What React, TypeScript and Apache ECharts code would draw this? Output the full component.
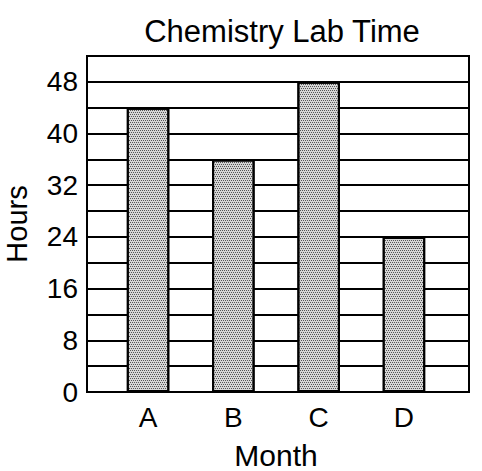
import React, { useEffect, useRef } from "react";
import * as echarts from "echarts";

const categories = ["A", "B", "C", "D"];
const hours = [44, 36, 48, 24];
const yTickLabels = [0, 8, 16, 24, 32, 40, 48];
const titleText = "Chemistry Lab Time";
const xName = "Month";
const yName = "Hours";

const FONT = "'Liberation Sans', Arial, sans-serif";

export default function App() {
  const ref = useRef<HTMLDivElement>(null);
  useEffect(() => {
    if (!ref.current) return;
    const chart = echarts.init(ref.current, null, { renderer: "svg" });
    const top = 56;
    const bottom = 79;
    chart.setOption({
      animation: false,
      backgroundColor: "#ffffff",
      title: {
        text: titleText,
        left: 277,
        textAlign: "center",
        top: 11,
        textStyle: { fontFamily: FONT, fontSize: 31, fontWeight: "normal", color: "#000" },
      },
      grid: [
        {
          left: 87, right: 13, top, bottom, show: true, borderColor: "#000", borderWidth: 2,
          backgroundColor: "transparent", containLabel: false, outerBoundsMode: "none",
        },
        { left: 105.4, width: 341.2, top, bottom, containLabel: false, outerBoundsMode: "none" },
      ],
      xAxis: [
        { type: "value", gridIndex: 0, min: 0, max: 1, show: false },
        {
          type: "category",
          gridIndex: 1,
          data: categories,
          boundaryGap: true,
          axisLine: { show: false },
          axisTick: { show: false },
          axisLabel: { margin: 11, fontFamily: FONT, fontSize: 28, color: "#000" },
          name: xName,
          nameLocation: "middle",
          nameGap: 48,
          nameTextStyle: { fontFamily: FONT, fontSize: 30, color: "#000" },
        },
      ],
      yAxis: [
        {
          type: "value",
          gridIndex: 0,
          min: 0,
          max: 52,
          interval: 4,
          axisLine: { show: true, lineStyle: { color: "#000", width: 2 } },
          axisTick: { show: false },
          splitLine: { show: true, lineStyle: { color: "#000", width: 2 } },
          axisLabel: {
            margin: 9,
            fontFamily: FONT,
            fontSize: 28,
            color: "#000",
            formatter: (v: number) => (yTickLabels.includes(v) ? String(v) : ""),
          },
          name: yName,
          nameLocation: "middle",
          nameGap: 56,
          nameTextStyle: { fontFamily: FONT, fontSize: 29, color: "#000" },
        },
        { type: "value", gridIndex: 1, min: 0, max: 52, interval: 4, show: false },
      ],
      series: [
        {
          type: "bar",
          xAxisIndex: 1,
          yAxisIndex: 1,
          data: hours,
          barWidth: 42.5,
          z: 5,
          itemStyle: {
            color: "#d6d6d6",
            borderColor: "#000",
            borderWidth: 2,
            decal: {
              symbol: "rect",
              symbolSize: 1,
              color: "#555555",
              dashArrayX: [[1, 1], [0, 1, 1, 0]],
              dashArrayY: [1, 1],
              rotation: 0,
            },
          },
        },
      ],
    });
    return () => chart.dispose();
  }, []);
  return (
    <div
      ref={ref}
      style={{ position: "fixed", left: 0, top: 0, width: 482, height: 471, background: "#fff" }}
    />
  );
}
